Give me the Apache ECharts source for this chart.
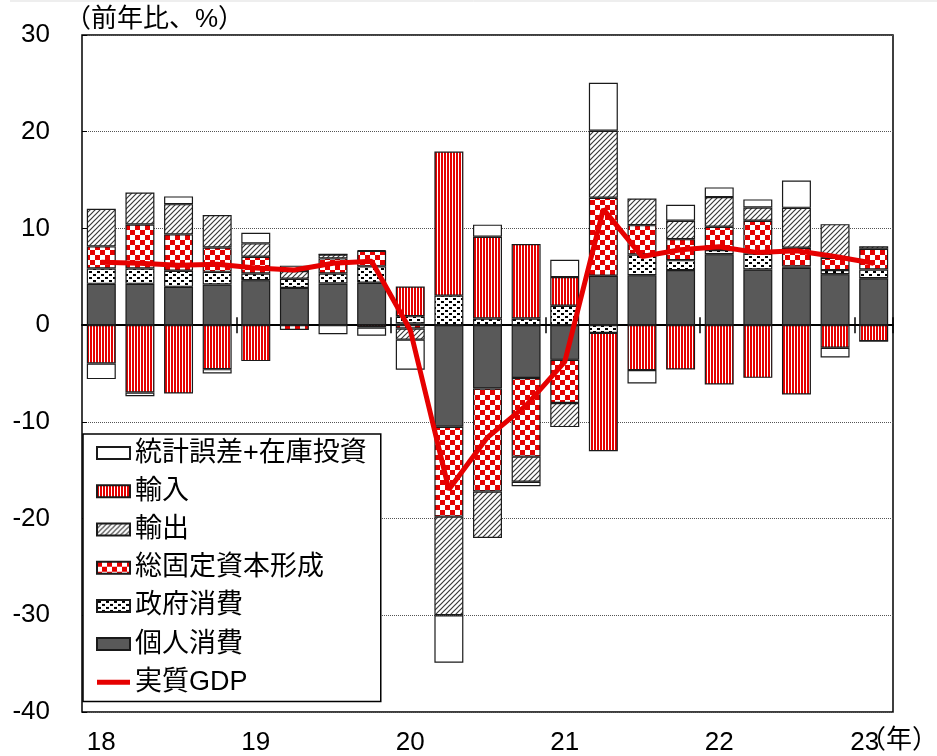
<!DOCTYPE html>
<html>
<head>
<meta charset="utf-8">
<script src="https://cdn.jsdelivr.net/npm/echarts@6/dist/echarts.min.js"></script>
<style>
html,body{margin:0;padding:0;background:#fff;}
#chart{width:937px;height:756px;}
</style>
</head>
<body>
<div id="chart"></div>
<script>
// ---- data ----
const categories = ['2018Q1','2018Q2','2018Q3','2018Q4','2019Q1','2019Q2','2019Q3','2019Q4',
  '2020Q1','2020Q2','2020Q3','2020Q4','2021Q1','2021Q2','2021Q3','2021Q4',
  '2022Q1','2022Q2','2022Q3','2022Q4','2023Q1'];
const xTickLabels = ['18','','','','19','','','','20','','','','21','','','','22','','','','23'];
const yTickValues = [-40,-30,-20,-10,0,10,20,30];

const privateConsumption = [4.27,4.27,3.96,4.2,4.65,3.85,4.31,4.38,0.17,-10.5,-6.55,-5.47,-3.59,5.1,5.17,5.69,7.34,5.76,5.93,5.27,4.85];
const governmentConsumption = [1.59,1.59,1.66,1.31,0.69,0.95,1.03,1.7,0.76,3.05,0.69,0.69,2.01,-0.8,2.14,1.03,0.42,1.65,0.15,0.42,0.9];
const fixedCapital = [2.28,4.55,3.76,2.52,1.73,-0.5,1.56,1.6,-0.35,-9.3,-10.65,-8.13,-4.46,8.07,3.03,2.17,2.41,3.38,1.92,1.27,2.15];
const exportsC = [3.89,3.31,3.13,3.35,1.38,0.8,0.41,0.08,-1.15,-10.2,-4.8,-2.6,-2.49,6.93,2.76,1.9,3.07,1.38,4.13,3.48,0.27];
const importsC = [-3.96,-6.96,-7.07,-4.55,-3.72,0,0,-0.25,3.07,14.9,8.45,7.7,2.96,-12.23,-4.65,-4.59,-6.14,-5.45,-7.17,-2.34,-1.65];
const statInventory = [-1.62,-0.38,0.8,-0.45,1.1,0.55,-0.93,-0.85,-3.1,-4.9,1.25,-0.45,1.78,4.96,-1.38,1.65,1.0,0.83,2.83,-1.0,0];
const realGDP = [6.5,6.4,6.2,6.3,5.9,5.7,6.4,6.6,-0.5,-17.0,-11.6,-8.3,-3.8,12.0,7.1,7.8,8.1,7.5,7.7,7.1,6.4];

const seriesNames = {
  stat:'統計誤差+在庫投資', imp:'輸入', exp:'輸出', gfcf:'総固定資本形成',
  gov:'政府消費', priv:'個人消費', gdp:'実質GDP'
};

// ---- patterns ----
const RED = '#e60000';
function makePattern(w, h, draw){
  const c = document.createElement('canvas');
  c.width = w; c.height = h;
  const ctx = c.getContext('2d');
  ctx.fillStyle = '#fff'; ctx.fillRect(0,0,w,h);
  draw(ctx);
  return {image:c, repeat:'repeat'};
}
const stripePat = makePattern(3,3,ctx=>{ctx.fillStyle=RED;ctx.fillRect(0,0,2,3);});
const hatchPat = makePattern(5,5,ctx=>{
  ctx.strokeStyle='#3a3a3a'; ctx.lineWidth=1.2;
  ctx.beginPath();
  ctx.moveTo(0,5);ctx.lineTo(5,0);
  ctx.moveTo(-1,1);ctx.lineTo(1,-1);
  ctx.moveTo(4,6);ctx.lineTo(6,4);
  ctx.stroke();
});
const checkPat = makePattern(10,10,ctx=>{ctx.fillStyle=RED;ctx.fillRect(0,0,5,5);ctx.fillRect(5,5,5,5);});
const dotPat = makePattern(8,6,ctx=>{ctx.fillStyle='#000';ctx.fillRect(1,1,3,2);ctx.fillRect(5,4,3,2);});

const FONT = "'Liberation Sans', 'Noto Sans CJK JP', sans-serif";

function barSeries(name, data, color){
  return {
    name, type:'bar', stack:'total', data, barWidth:'75%',
    xAxisIndex:0, yAxisIndex:0,
    itemStyle:{color, borderColor:'#1a1a1a', borderWidth:1.2},
    emphasis:{disabled:true}
  };
}

const chart = echarts.init(document.getElementById('chart'), null, {renderer:'canvas'});
const tickFn = (i)=> i>0 && i%4===0;
const gridBox = {left:82, right:44, top:35, bottom:44};
const yBase = {type:'value', min:yTickValues[0], max:yTickValues[yTickValues.length-1], interval:10};
const option = {
  animation:false,
  textStyle:{fontFamily:FONT},
  grid:[
    Object.assign({show:true, borderColor:'#000', borderWidth:1.5}, gridBox),
    Object.assign({show:false}, gridBox)
  ],
  xAxis:[
    {type:'category', data:categories, gridIndex:0, position:'bottom',
     axisLine:{onZero:true, lineStyle:{color:'#000', width:2}},
     axisTick:{show:true, inside:false, length:8, interval:tickFn, lineStyle:{color:'#000', width:1.5}},
     axisLabel:{show:false}, splitLine:{show:false}},
    {type:'category', data:categories, gridIndex:0, position:'bottom',
     axisLine:{show:false, onZero:false}, axisTick:{show:false},
     axisLabel:{show:true, interval:0, margin:18, fontSize:26, color:'#000', fontFamily:FONT,
       formatter:(v,i)=> i===categories.length-1 ? '{s|'+xTickLabels[i]+'}' : xTickLabels[i],
       rich:{s:{fontSize:26, color:'#000', fontFamily:FONT, padding:[0,18,0,0]}}}},
    {type:'category', data:categories, gridIndex:1, position:'bottom',
     axisLine:{show:false, onZero:true},
     axisTick:{show:true, inside:true, length:8, interval:tickFn, lineStyle:{color:'#000', width:1.5}},
     axisLabel:{show:false}, splitLine:{show:false}}
  ],
  yAxis:[
    Object.assign({gridIndex:0,
      axisLine:{show:false},
      axisTick:{show:true, inside:true, length:5, lineStyle:{color:'#000', width:1}},
      axisLabel:{fontSize:26, color:'#000', margin:32, fontFamily:FONT},
      splitLine:{show:true, lineStyle:{color:'#555', type:'dotted', width:1}}}, yBase),
    Object.assign({gridIndex:1, show:false, splitLine:{show:false}}, yBase)
  ],
  legend:{
    orient:'vertical', left:83, top:434,
    padding:[0,14,0,13], itemGap:0, itemWidth:33, itemHeight:12,
    backgroundColor:'#fff', borderColor:'#000', borderWidth:1.5,
    selectedMode:false, icon:'rect',
    textStyle:{fontSize:27, color:'#000', lineHeight:38.2, fontFamily:FONT},
    data:[
      {name:seriesNames.stat, icon:'rect'}, {name:seriesNames.imp, icon:'rect'}, {name:seriesNames.exp, icon:'rect'},
      {name:seriesNames.gfcf, icon:'rect'}, {name:seriesNames.gov, icon:'rect'}, {name:seriesNames.priv, icon:'rect'},
      {name:seriesNames.gdp, icon:'path://M0,0 L33,0 L33,5 L0,5 Z', itemStyle:{color:RED, borderWidth:0}}]
  },
  series:[
    barSeries(seriesNames.priv, privateConsumption, '#595959'),
    barSeries(seriesNames.gov, governmentConsumption, dotPat),
    barSeries(seriesNames.gfcf, fixedCapital, checkPat),
    barSeries(seriesNames.exp, exportsC, hatchPat),
    barSeries(seriesNames.imp, importsC, stripePat),
    barSeries(seriesNames.stat, statInventory, '#ffffff'),
    {name:seriesNames.gdp, type:'line', data:realGDP, symbol:'none', z:5,
     xAxisIndex:0, yAxisIndex:0,
     lineStyle:{color:RED, width:5}, itemStyle:{color:RED}, emphasis:{disabled:true}}
  ],
  graphic:[
    {type:'line', shape:{x1:10, y1:1, x2:937, y2:1}, style:{stroke:'#ddd', lineWidth:1}, silent:true},
    {type:'text', left:65, top:7, style:{text:'（前年比、%）', fill:'#000', font:'26px ' + FONT}},
    {type:'text', left:860, top:728, style:{text:'（年）', fill:'#000', font:'26px ' + FONT}}
  ]
};
chart.setOption(option);
</script>
</body>
</html>
